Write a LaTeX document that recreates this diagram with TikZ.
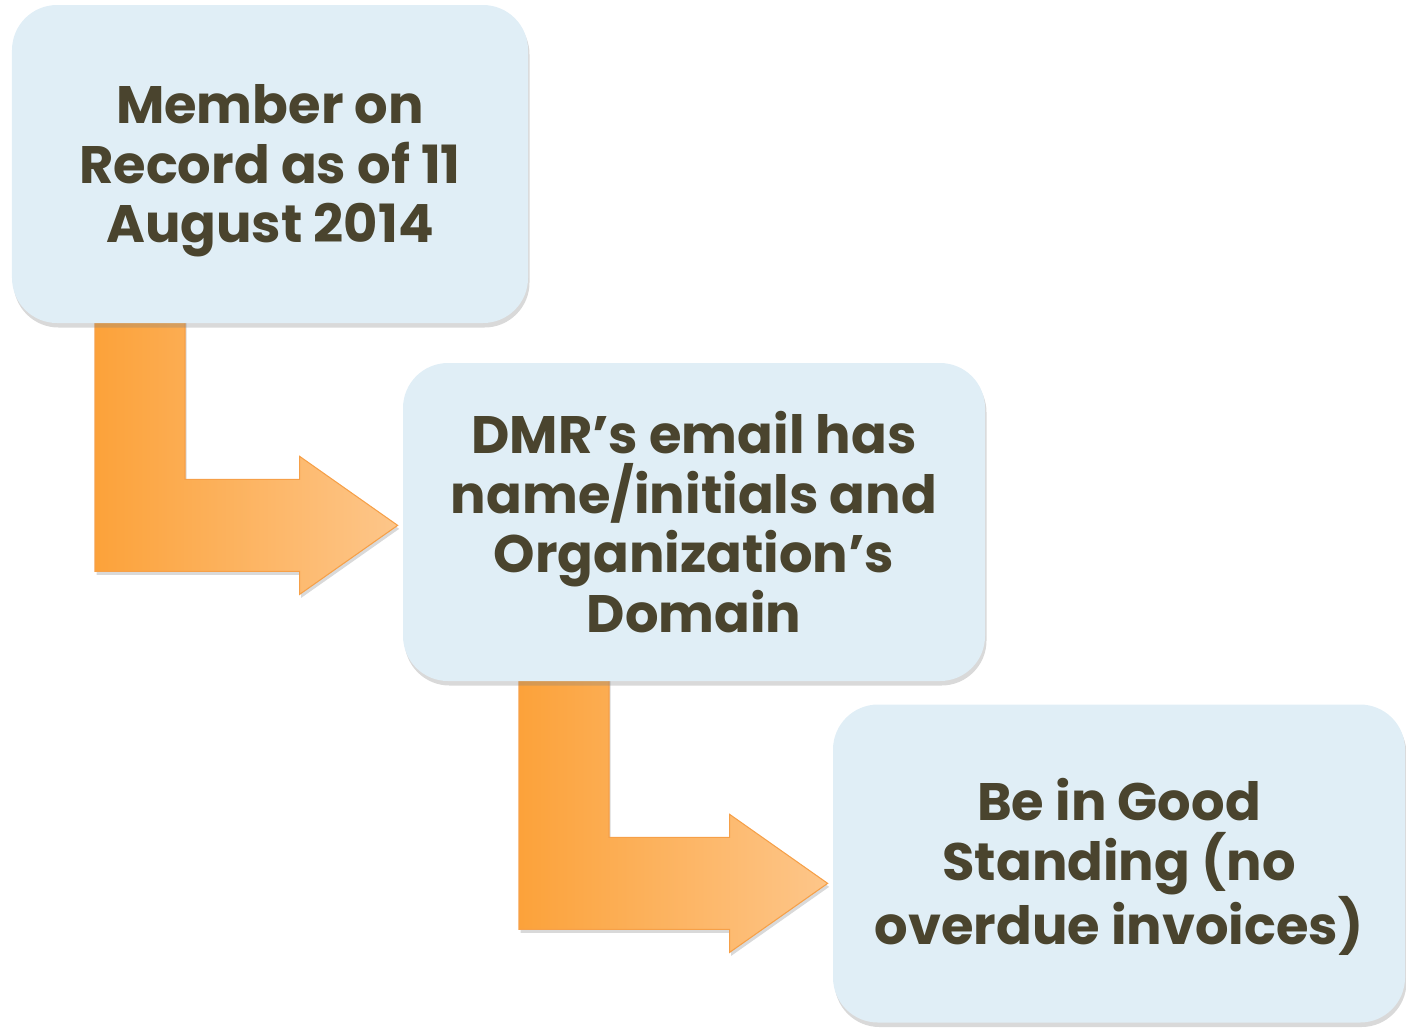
\documentclass[tikz,border=0pt]{standalone}
\usepackage{fontspec}
\setmainfont{Poppins}
\usetikzlibrary{shadows,calc,positioning}
\pgfdeclarelayer{bg}
\pgfsetlayers{bg,main}
\definecolor{boxblue}{RGB}{224,238,246}
\definecolor{boxtext}{RGB}{74,68,46}
\definecolor{arrowdark}{RGB}{252,162,58}
\definecolor{arrowlight}{RGB}{253,198,138}
\definecolor{arrowedge}{RGB}{246,160,72}
\tikzset{
  stepbox/.style={rectangle, rounded corners=0.9cm, fill=boxblue, text=boxtext,
    font=\bfseries\fontsize{30}{34}\selectfont, align=center, inner sep=0pt,
    minimum height=6.36cm,
    drop shadow={opacity=0.3, shadow xshift=0.03cm, shadow yshift=-0.09cm}},
  bendarrow/.style={left color=arrowdark, right color=arrowlight, draw=arrowedge,
    line width=0.6pt,
    drop shadow={opacity=0.3, shadow xshift=0.03cm, shadow yshift=-0.07cm}}
}
\newcommand{\bentarrow}[2]{%
  \begin{pgfonlayer}{bg}
  \path[bendarrow] let \p1=(#1.south), \p2=(#2.west), \n1={\y1-4.04cm} in
    (\x1-3.5cm,\y1+0.2cm) -- (\x1-1.7cm,\y1+0.2cm) -- (\x1-1.7cm,\n1+0.92cm)
    -- (\x2-2.06cm,\n1+0.92cm) -- (\x2-2.06cm,\n1+1.38cm) -- (\x2-0.1cm,\n1)
    -- (\x2-2.06cm,\n1-1.38cm) -- (\x2-2.06cm,\n1-0.92cm)
    -- (\x1-3.5cm,\n1-0.92cm) -- cycle;
  \end{pgfonlayer}}

\begin{document}
\begin{tikzpicture}

  \useasboundingbox (0,0) rectangle (28.12,-20.54);

  \node[stepbox, minimum width=10.32cm] (member) at (5.4,-3.28)
    {\mbox{}\\[-4pt]Member on\\Record as of 11\\August 2014};
  \node[stepbox, minimum width=11.64cm] (email) at (13.88,-10.44)
    {DMR’s email has\\name/initials and\\Organization’s\\Domain};
  \node[stepbox, minimum width=11.44cm] (standing) at (22.38,-17.27)
    {\mbox{}\\[-6pt]Be in Good\\Standing (no\\overdue invoices)};

  \bentarrow{member}{email}
  \bentarrow{email}{standing}

\end{tikzpicture}
\end{document}
